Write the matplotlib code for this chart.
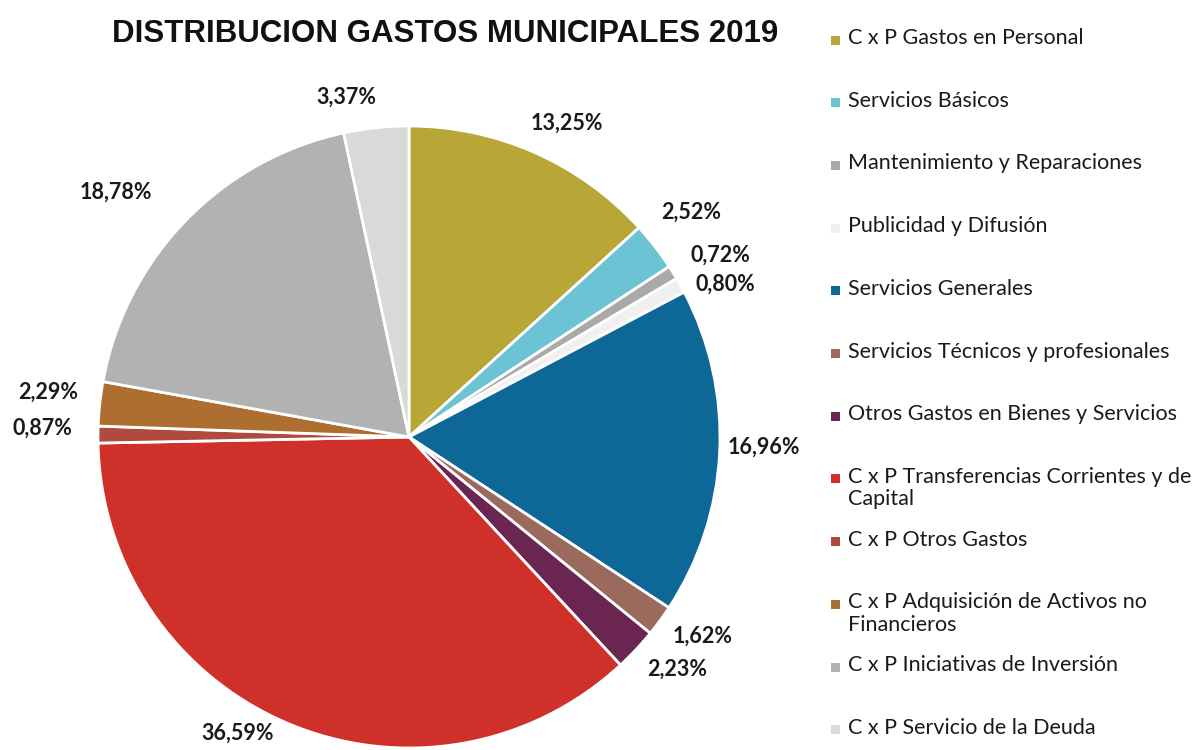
import numpy as np
import matplotlib.pyplot as plt
from matplotlib.patches import Rectangle

categorias = ['C x P Gastos en Personal', 'Servicios Básicos',
              'Mantenimiento y Reparaciones', 'Publicidad y Difusión',
              'Servicios Generales', 'Servicios Técnicos y profesionales',
              'Otros Gastos en Bienes y Servicios',
              'C x P Transferencias Corrientes y de\nCapital',
              'C x P Otros Gastos',
              'C x P Adquisición de Activos no\nFinancieros',
              'C x P Iniciativas de Inversión',
              'C x P Servicio de la Deuda']
porcentajes = [13.25, 2.52, 0.72, 0.80, 16.96, 1.62, 2.23, 36.59, 0.87, 2.29, 18.78, 3.37]
colores = ['#b8a637', '#6cc3d3', '#a9a9a9', '#f0f0f0', '#0d6797', '#9a6b5d',
           '#6a2650', '#d0302a', '#b04a3f', '#ad6f30', '#b2b2b2', '#d9d9d9']

# ajustes de posicion de etiquetas (factor radial, giro en grados)
lab_r = [1.13, 1.16, 1.16, 1.13, 1.14, 1.14, 1.14, 1.10, 1.18, 1.17, 1.23, 1.11]
lab_da = [-2.9, 0.7, -1.6, -3.4, 1.2, 2.1, 2.2, -7.0, -1.0, -1.0, 4.2, 4.4]

W, H = 1199, 750
fig = plt.figure(figsize=(W/100, H/100), dpi=100)
ax = fig.add_axes([0, 0, 1, 1])

cx, cy, R = 409, H-437, 311
wedges, _ = ax.pie(porcentajes, colors=colores, startangle=90, counterclock=False,
                   center=(cx, cy), radius=R,
                   wedgeprops=dict(edgecolor='white', linewidth=2))
ax.set_xlim(0, W)
ax.set_ylim(0, H)
ax.set_aspect('auto')
ax.axis('off')

for i, w in enumerate(wedges):
    th = np.deg2rad((w.theta1 + w.theta2) / 2 + lab_da[i])
    x = cx + lab_r[i]*R*np.cos(th)
    y = cy + lab_r[i]*R*np.sin(th)
    txt = ('%.2f%%' % porcentajes[i]).replace('.', ',')
    ax.text(x, y, txt, ha='center', va='center', fontsize=15.5,
            fontweight='bold', family='Lato', color='#1a1a1a')

fig.text(445/W, 1-34/H, 'DISTRIBUCION GASTOS MUNICIPALES 2019',
         ha='center', va='center', fontsize=22.5, fontweight='bold',
         family='Liberation Sans', color='#111111')

# leyenda
for i, lab in enumerate(categorias):
    yy = 40 + i*62.7
    ax.add_patch(Rectangle((831, H-yy-4.5), 9, 9, facecolor=colores[i],
                           edgecolor='none'))
    ax.text(848, H-yy+12, lab, ha='left', va='top', fontsize=15.5,
            family='Lato', color='#1a1a1a', linespacing=1.15)

fig.savefig('out.png', dpi=100, facecolor='white')
